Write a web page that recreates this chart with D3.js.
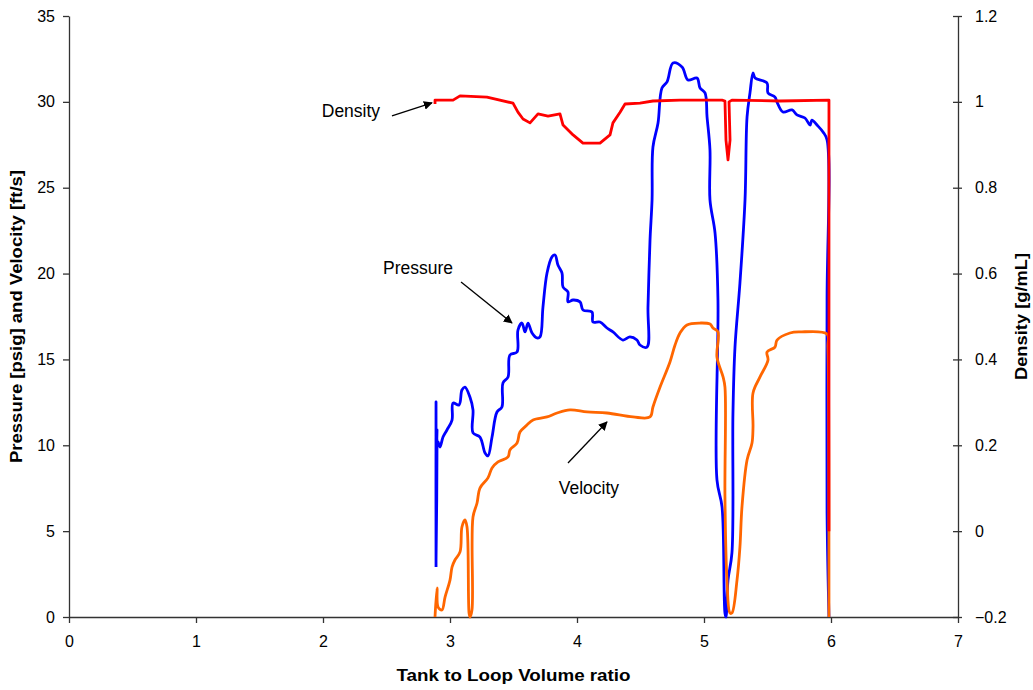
<!DOCTYPE html>
<html>
<head>
<meta charset="utf-8">
<script src="https://cdn.jsdelivr.net/npm/d3@7"></script>
<style>
  body { margin: 0; background: #fff; }
  text { font-family: "Liberation Sans", Arial, sans-serif; }
</style>
</head>
<body>
<svg id="chart" width="1033" height="690"></svg>
<script>
// volume ratio vs. pressure [psig]
const pressureX = [2.890, 2.890, 2.890, 2.898, 2.890, 2.898, 2.890, 2.906, 2.921, 2.945, 2.976, 3.016, 3.024, 3.071, 3.094, 3.118, 3.157, 3.181, 3.181, 3.236, 3.276, 3.299, 3.331, 3.370, 3.409, 3.417, 3.457, 3.472, 3.528, 3.535, 3.567, 3.591, 3.614, 3.646, 3.685, 3.709, 3.732, 3.764, 3.803, 3.827, 3.850, 3.882, 3.890, 3.929, 3.929, 3.969, 4.024, 4.047, 4.118, 4.126, 4.181, 4.236, 4.283, 4.362, 4.417, 4.472, 4.496, 4.551, 4.559, 4.575, 4.591, 4.598, 4.638, 4.669, 4.709, 4.756, 4.827, 4.874, 4.945, 4.969, 5.008, 5.024, 5.047, 5.047, 5.087, 5.110, 5.102, 5.142, 5.165, 5.173, 5.189, 5.220, 5.228, 5.244, 5.283, 5.323, 5.339, 5.362, 5.386, 5.402, 5.496, 5.504, 5.559, 5.575, 5.622, 5.693, 5.732, 5.795, 5.835, 5.850, 5.890, 5.937, 5.969, 5.969, 5.969, 5.984];
const pressure  = [2.91, 12.52, 3.32, 10.31, 8.56, 10.89, 9.4, 10.2, 9.90, 10.48, 10.89, 11.47, 12.46, 12.35, 13.22, 13.39, 12.81, 12.06, 10.72, 10.48, 9.55, 9.38, 10.48, 11.94, 12.23, 13.63, 13.98, 15.26, 15.43, 16.71, 17.12, 16.60, 17.12, 16.54, 16.25, 16.31, 18.05, 20.03, 20.97, 21.08, 20.50, 20.03, 19.22, 18.93, 18.35, 18.46, 18.35, 17.88, 17.76, 17.18, 17.18, 16.83, 16.60, 16.13, 16.31, 16.13, 15.84, 15.72, 18.05, 21.96, 24.29, 27.37, 28.77, 30.81, 31.16, 32.26, 32.03, 31.27, 31.39, 30.81, 30.52, 29.12, 27.20, 24.29, 22.36, 18.46, 7.98, 6.41, 0.23, 0, 2.15, 3.73, 11.88, 15.72, 19.45, 24.29, 29.12, 30.52, 31.68, 31.39, 31.10, 30.52, 30.28, 29.99, 29.41, 29.53, 29.24, 29.06, 28.65, 28.94, 28.65, 28.25, 27.78, 18.46, 6.06, 0];

// volume ratio vs. velocity [ft/s]
const velocityX = [2.882, 2.898, 2.906, 2.937, 2.961, 3.000, 3.016, 3.039, 3.079, 3.094, 3.118, 3.134, 3.150, 3.157, 3.173, 3.181, 3.213, 3.236, 3.299, 3.331, 3.378, 3.457, 3.472, 3.528, 3.551, 3.606, 3.654, 3.764, 3.843, 3.945, 4.079, 4.236, 4.441, 4.575, 4.598, 4.654, 4.732, 4.772, 4.811, 4.866, 4.969, 5.047, 5.071, 5.110, 5.102, 5.150, 5.165, 5.165, 5.181, 5.205, 5.220, 5.260, 5.283, 5.299, 5.339, 5.378, 5.386, 5.386, 5.441, 5.504, 5.496, 5.559, 5.575, 5.677, 5.756, 5.969, 5.976, 5.984, 5.984];
const velocity  = [0, 1.69, 0.58, 0.41, 1.16, 2.15, 2.91, 3.32, 3.79, 5.24, 5.65, 5.24, 0.23, 0, 0.41, 5.82, 6.64, 7.51, 8.10, 8.68, 9.03, 9.32, 9.73, 10.13, 10.77, 11.18, 11.47, 11.65, 11.88, 12.06, 11.94, 11.88, 11.65, 11.65, 12.23, 13.39, 14.85, 15.84, 16.54, 17.01, 17.12, 17.06, 16.83, 16.60, 15.14, 13.98, 13.39, 6.99, 2.15, 0.23, 0.23, 2.15, 4.08, 6.41, 9.14, 10.13, 11.07, 13.05, 13.98, 14.97, 15.43, 15.72, 16.13, 16.54, 16.60, 16.48, 15.72, 0.23, 0];

// volume ratio vs. density [g/mL]
const densityX = [2.882, 2.882, 3.024, 3.079, 3.291, 3.496, 3.535, 3.575, 3.630, 3.693, 3.772, 3.866, 3.890, 3.969, 4.047, 4.126, 4.181, 4.260, 4.283, 4.339, 4.378, 4.496, 4.598, 4.811, 5.142, 5.165, 5.173, 5.189, 5.205, 5.197, 5.220, 5.598, 5.984, 5.984];
const density  = [0.995, 1.004, 1.004, 1.014, 1.011, 0.997, 0.976, 0.960, 0.951, 0.972, 0.967, 0.972, 0.946, 0.923, 0.904, 0.904, 0.904, 0.923, 0.951, 0.976, 0.995, 0.997, 1.002, 1.004, 1.004, 1.002, 0.911, 0.865, 0.911, 1.000, 1.004, 1.002, 1.004, 0];

const xTicks = [0, 1, 2, 3, 4, 5, 6, 7];
const leftTicks = [0, 5, 10, 15, 20, 25, 30, 35];
const rightTicks = [-0.2, 0, 0.2, 0.4, 0.6, 0.8, 1, 1.2];

// label text, label x/y, arrow tail x/y, arrow head x/y (data units, left axis)
const notes = [
  { text: "Density",  lx: 2.22,  ly: 29.47, tx: 2.543, ty: 29.18, hx: 2.858, hy: 29.94 },
  { text: "Pressure", lx: 2.748, ly: 20.33, tx: 3.087, ty: 19.51, hx: 3.488, hy: 17.12 },
  { text: "Velocity", lx: 4.094, ly: 7.51,  tx: 3.929, ty: 8.97,  hx: 4.236, hy: 11.36 }
];

const svg = d3.select("#chart"),
    margin = { top: 16, right: 75, bottom: 73, left: 69 },
    width = +svg.attr("width") - margin.left - margin.right,
    height = +svg.attr("height") - margin.top - margin.bottom;

const x = d3.scaleLinear().domain([0, 7]).range([0, width]);
const y = d3.scaleLinear().domain([0, 35]).range([height, 0]);
const yD = d3.scaleLinear().domain([-0.2, 1.2]).range([height, 0]);

svg.append("defs").append("marker")
    .attr("id", "arrow")
    .attr("viewBox", "0 0 10 10")
    .attr("refX", 9).attr("refY", 5)
    .attr("markerWidth", 9).attr("markerHeight", 9)
    .attr("markerUnits", "userSpaceOnUse")
    .attr("orient", "auto")
  .append("path")
    .attr("d", "M0,0L10,5L0,10z")
    .attr("fill", "#000");

const g = svg.append("g").attr("transform", `translate(${margin.left},${margin.top})`);

function styleAxis(sel) {
    sel.select(".domain").attr("stroke", "#333").attr("stroke-width", 1.3);
    sel.selectAll(".tick line").attr("stroke", "#333").attr("stroke-width", 1.3);
    sel.selectAll(".tick text").attr("font-size", 16).attr("fill", "#000")
        .attr("font-family", "Liberation Sans, Arial, sans-serif");
}

g.append("g")
    .attr("transform", `translate(0,${height})`)
    .call(d3.axisBottom(x).tickValues(xTicks).tickSizeInner(6).tickSizeOuter(0).tickPadding(13).tickFormat(d3.format("d")))
    .call(styleAxis);

g.append("g")
    .call(d3.axisLeft(y).tickValues(leftTicks).tickSizeInner(6).tickSizeOuter(0).tickPadding(8))
    .call(styleAxis);

const right = g.append("g")
    .attr("transform", `translate(${width},0)`)
    .call(d3.axisRight(yD).tickValues(rightTicks).tickSizeInner(4).tickSizeOuter(0).tickPadding(13).tickFormat(d => d3.format("")(+d.toFixed(1))))
    .call(styleAxis);
right.selectAll(".tick line").attr("x1", -5);

const smooth = d3.line().curve(d3.curveCatmullRom.alpha(0.5));
const straight = d3.line();

function drawSeries(xs, ys, scale, color, gen) {
    g.append("path")
        .datum(xs.map((v, i) => [x(v), scale(ys[i])]))
        .attr("d", gen)
        .attr("fill", "none")
        .attr("stroke", color)
        .attr("stroke-width", 2.8)
        .attr("stroke-linejoin", "round");
}

drawSeries(pressureX, pressure, y, "#0000ff", smooth);
drawSeries(velocityX, velocity, y, "#ff6600", smooth);
drawSeries(densityX, density, yD, "#ff0000", straight);

notes.forEach(n => {
    g.append("line")
        .attr("x1", x(n.tx)).attr("y1", y(n.ty))
        .attr("x2", x(n.hx)).attr("y2", y(n.hy))
        .attr("stroke", "#000").attr("stroke-width", 1.3)
        .attr("marker-end", "url(#arrow)");
    g.append("text")
        .attr("x", x(n.lx)).attr("y", y(n.ly))
        .attr("dy", "0.35em")
        .attr("text-anchor", "middle")
        .attr("font-size", 17.5)
        .text(n.text);
});

svg.append("text")
    .attr("x", margin.left + width / 2).attr("y", 681)
    .attr("text-anchor", "middle")
    .attr("font-size", 16).attr("font-weight", "bold")
    .attr("textLength", 234).attr("lengthAdjust", "spacingAndGlyphs")
    .text("Tank to Loop Volume ratio");

svg.append("text")
    .attr("transform", `translate(22,${margin.top + height / 2}) rotate(-90)`)
    .attr("text-anchor", "middle")
    .attr("font-size", 16).attr("font-weight", "bold")
    .attr("textLength", 293).attr("lengthAdjust", "spacingAndGlyphs")
    .text("Pressure [psig] and Velocity [ft/s]");

svg.append("text")
    .attr("transform", `translate(1027,${margin.top + height / 2}) rotate(-90)`)
    .attr("text-anchor", "middle")
    .attr("font-size", 16).attr("font-weight", "bold")
    .attr("textLength", 127).attr("lengthAdjust", "spacingAndGlyphs")
    .text("Density [g/mL]");
</script>
</body>
</html>
